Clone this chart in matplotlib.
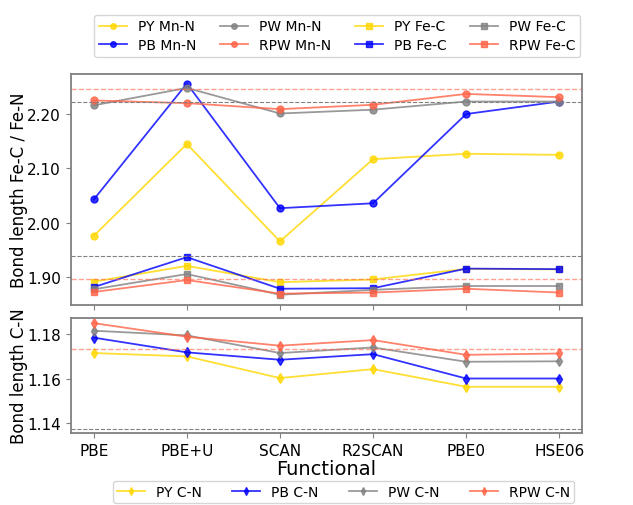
import matplotlib
matplotlib.use("Agg")
import matplotlib.pyplot as plt

functionals = ["PBE", "PBE+U", "SCAN", "R2SCAN", "PBE0", "HSE06"]

# Mn-N bond lengths
py_mnn = [1.976, 2.145, 1.966, 2.117, 2.127, 2.125]
pb_mnn = [2.043, 2.256, 2.027, 2.036, 2.200, 2.223]
pw_mnn = [2.216, 2.248, 2.201, 2.208, 2.223, 2.223]
rpw_mnn = [2.225, 2.220, 2.209, 2.217, 2.237, 2.231]

# Fe-C bond lengths
py_fec = [1.892, 1.921, 1.891, 1.896, 1.9155, 1.9145]
pb_fec = [1.882, 1.937, 1.879, 1.880, 1.916, 1.915]
pw_fec = [1.878, 1.906, 1.868, 1.877, 1.884, 1.884]
rpw_fec = [1.873, 1.895, 1.870, 1.872, 1.879, 1.872]

# C-N bond lengths
py_cn = [1.1715, 1.1700, 1.1603, 1.1643, 1.1564, 1.1564]
pb_cn = [1.1784, 1.1718, 1.1685, 1.1710, 1.1601, 1.1601]
pw_cn = [1.1815, 1.1794, 1.1715, 1.1740, 1.1676, 1.1678]
rpw_cn = [1.1849, 1.1788, 1.1748, 1.1773, 1.1707, 1.1713]

# reference lines
ref_top_red = [2.246, 1.897]
ref_top_gray = [2.2215, 1.9386]
ref_bot_red = [1.1731]
ref_bot_gray = [1.1376]

names = ["PY", "PB", "PW", "RPW"]
colors = ["gold", "blue", "gray", "tomato"]

fig = plt.figure(figsize=(6.33, 5.06), dpi=100)
ax1 = fig.add_axes([0.1114, 0.3962, 0.8088, 0.4555])
ax2 = fig.add_axes([0.1114, 0.1423, 0.8088, 0.2273])

x = list(range(len(functionals)))
mnn = [py_mnn, pb_mnn, pw_mnn, rpw_mnn]
fec = [py_fec, pb_fec, pw_fec, rpw_fec]
cn = [py_cn, pb_cn, pw_cn, rpw_cn]

h_top = []
for n, c, d in zip(names, colors, mnn):
    h, = ax1.plot(x, d, marker="o", color=c, alpha=0.8, lw=1.3, ms=5, label=f"{n} Mn-N")
    h_top.append(h)
for n, c, d in zip(names, colors, fec):
    h, = ax1.plot(x, d, marker="s", color=c, alpha=0.8, lw=1.3, ms=5, label=f"{n} Fe-C")
    h_top.append(h)

h_bot = []
for n, c, d in zip(names, colors, cn):
    h, = ax2.plot(x, d, marker="d", color=c, alpha=0.8, lw=1.3, ms=5, label=f"{n} C-N")
    h_bot.append(h)

for v in ref_top_red:
    ax1.axhline(v, color="tomato", ls="--", lw=1, alpha=0.6)
for v in ref_top_gray:
    ax1.axhline(v, color="gray", ls="--", lw=0.8)
for v in ref_bot_red:
    ax2.axhline(v, color="tomato", ls="--", lw=1, alpha=0.6)
for v in ref_bot_gray:
    ax2.axhline(v, color="gray", ls="--", lw=0.8)

ax1.set_ylim(1.850, 2.2735)
ax1.set_yticks([1.90, 2.00, 2.10, 2.20])
ax1.set_yticklabels(["1.90", "2.00", "2.10", "2.20"])
ax2.set_ylim(1.1357, 1.1872)
ax2.set_yticks([1.14, 1.16, 1.18])
ax2.set_yticklabels(["1.14", "1.16", "1.18"])

for ax in (ax1, ax2):
    ax.set_xticks(x)
    ax.set_xlim(-0.25, 5.25)
    for s in ax.spines.values():
        s.set_color("gray")
        s.set_linewidth(1.3)
    ax.tick_params(labelsize=11, color="gray")
ax1.set_xticklabels([])
ax2.set_xticklabels(functionals)

ax1.set_ylabel("Bond length Fe-C / Fe-N", fontsize=12)
ax2.set_ylabel("Bond length C-N", fontsize=12)
ax1.yaxis.set_label_coords(-0.083, 0.5)
ax2.yaxis.set_label_coords(-0.083, 0.5)
ax2.set_xlabel("Functional", fontsize=14, labelpad=1)

fig.legend(handles=h_top, loc="upper center", bbox_to_anchor=(0.533, 0.983),
           ncol=4, fontsize=10, markerscale=0.8, columnspacing=1.7,
           handlelength=2.0, borderpad=0.35, labelspacing=0.35)
fig.legend(handles=h_bot, loc="upper center", bbox_to_anchor=(0.5427, 0.062),
           ncol=4, fontsize=10, markerscale=0.8, columnspacing=2.2,
           handlelength=2.0, borderpad=0.3)

fig.savefig("out.png", dpi=100)
